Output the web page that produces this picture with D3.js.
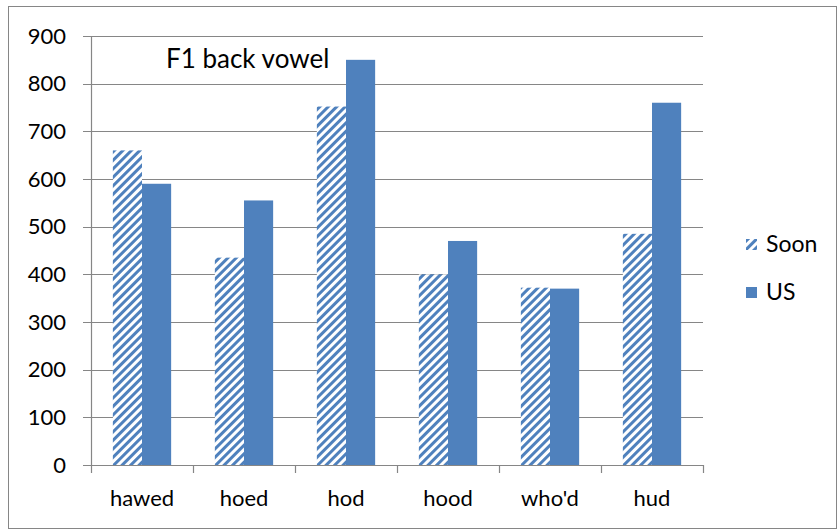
<!DOCTYPE html>
<html>
<script src='https://d3js.org/d3.v7.min.js'></script>
<style>
  html, body { margin: 0; padding: 0; background: #fff; }
  text { font-family: Lato, 'Open Sans', sans-serif; fill: #000; }
</style>
<body>
<div id="vis"></div>
</body>
<script>
var categories = ["hawed", "hoed", "hod", "hood", "who'd", "hud"];
var soon = [660, 435, 752, 400, 372, 485];
var us = [590, 555, 850, 470, 370, 760];
var seriesNames = ["Soon", "US"];
var yTicks = [0, 100, 200, 300, 400, 500, 600, 700, 800, 900];

var width = 840, height = 529;
var margin = { top: 36, bottom: 64, left: 91, right: 137 };
var w = width - margin.left - margin.right;
var h = height - margin.top - margin.bottom;
var blue = '#4f81bd';

var svg = d3.select('#vis')
    .append('svg')
    .attr('width', width)
    .attr('height', height);

// hatched fill for Soon
var defs = svg.append('defs');
var pat = defs.append('pattern')
    .attr('id', 'hatch')
    .attr('patternUnits', 'userSpaceOnUse')
    .attr('width', 6)
    .attr('height', 6)
    .attr('patternTransform', 'rotate(45)');
pat.append('rect').attr('width', 6).attr('height', 6).attr('fill', '#fff');
pat.append('rect').attr('width', 3).attr('height', 6).attr('fill', blue);

// outer chart border
svg.append('rect')
    .attr('x', 8.5).attr('y', 6.5)
    .attr('width', 828).attr('height', 522)
    .attr('fill', 'none')
    .attr('stroke', '#868686')
    .attr('stroke-width', 1);

var g = svg.append('g')
    .attr('transform', 'translate(' + margin.left + ',' + margin.top + ')');

var x_scale = d3.scaleBand()
    .domain(categories)
    .range([0, w]);

var bar_w = x_scale.bandwidth() / 3.5;
var x_inner = d3.scaleBand()
    .domain(seriesNames)
    .range([0.75 * bar_w, 2.75 * bar_w]);

var y_scale = d3.scaleLinear()
    .domain([0, 900])
    .range([h, 0]);

// gridlines
g.selectAll('.grid')
    .data(yTicks)
    .enter()
    .append('line')
    .attr('class', 'grid')
    .attr('x1', -8)
    .attr('x2', w)
    .attr('y1', function(d) { return Math.round(y_scale(d)) + 0.5; })
    .attr('y2', function(d) { return Math.round(y_scale(d)) + 0.5; })
    .attr('stroke', '#868686')
    .attr('stroke-width', 1.2);

// y axis line
g.append('line')
    .attr('x1', 0.5).attr('x2', 0.5)
    .attr('y1', 0).attr('y2', h)
    .attr('stroke', '#868686')
    .attr('stroke-width', 1.2);

var y_axis = d3.axisLeft(y_scale)
    .tickValues(yTicks)
    .tickSize(0)
    .tickPadding(25);
g.append('g')
    .attr('class', 'y axis')
    .call(y_axis)
    .call(function(s) { s.select('.domain').remove(); })
    .selectAll('text')
    .style('font-size', '22px');

// x axis ticks at category boundaries
var bounds = categories.map(function(c) { return x_scale(c); }).concat([w]);
g.selectAll('.xtick')
    .data(bounds)
    .enter()
    .append('line')
    .attr('class', 'xtick')
    .attr('x1', function(d) { return Math.round(d) + 0.5; })
    .attr('x2', function(d) { return Math.round(d) + 0.5; })
    .attr('y1', h)
    .attr('y2', h + 8)
    .attr('stroke', '#868686')
    .attr('stroke-width', 1.2);

g.selectAll('.xlabel')
    .data(categories)
    .enter()
    .append('text')
    .attr('class', 'xlabel')
    .attr('x', function(d) { return x_scale(d) + x_scale.bandwidth() / 2; })
    .attr('y', h + 41)
    .attr('text-anchor', 'middle')
    .style('font-size', '22px')
    .text(function(d) { return d; });

// bars
var rows = categories.map(function(c, i) {
    return [{ cat: c, s: 'Soon', v: soon[i] }, { cat: c, s: 'US', v: us[i] }];
});
var groups = g.selectAll('.grp')
    .data(rows)
    .enter()
    .append('g')
    .attr('class', 'grp')
    .attr('transform', function(d) { return 'translate(' + x_scale(d[0].cat) + ',0)'; });

groups.selectAll('rect')
    .data(function(d) { return d; })
    .enter()
    .append('rect')
    .attr('x', function(d) { return x_inner(d.s); })
    .attr('width', x_inner.bandwidth())
    .attr('y', function(d) { return y_scale(d.v); })
    .attr('height', function(d) { return h - y_scale(d.v); })
    .attr('fill', function(d) { return d.s === 'Soon' ? 'url(#hatch)' : blue; });

// title
svg.append('text')
    .attr('x', 166)
    .attr('y', 68)
    .style('font-size', '26px')
    .text('F1 back vowel');

// legend
var legend = svg.selectAll('.legend')
    .data(seriesNames)
    .enter()
    .append('g')
    .attr('class', 'legend')
    .attr('transform', function(d, i) { return 'translate(746,' + (239 + i * 48) + ')'; });
legend.append('rect')
    .attr('width', 11)
    .attr('height', 11)
    .attr('fill', function(d) { return d === 'Soon' ? 'url(#hatch)' : blue; });
legend.append('text')
    .attr('x', 20)
    .attr('y', 13)
    .style('font-size', '23px')
    .text(function(d) { return d; });
</script>
</html>
